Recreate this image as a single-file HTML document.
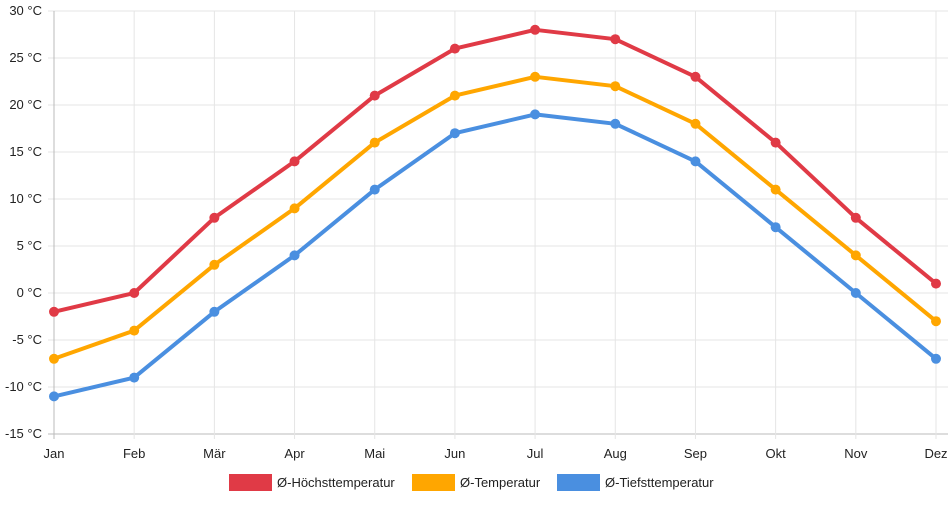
<!DOCTYPE html>
<html><head><meta charset="utf-8"><style>
body{margin:0;background:#fff;font-family:"Liberation Sans",sans-serif;}
svg text{font-family:"Liberation Sans",sans-serif;font-size:13px;fill:#222;}
</style></head><body>
<svg id="c" width="952" height="500"></svg>
<script>
const months=["Jan","Feb","Mär","Apr","Mai","Jun","Jul","Aug","Sep","Okt","Nov","Dez"];
const highTemps=[-2,0,8,14,21,26,28,27,23,16,8,1];
const meanTemps=[-7,-4,3,9,16,21,23,22,18,11,4,-3];
const lowTemps=[-11,-9,-2,4,11,17,19,18,14,7,0,-7];
const yTicks=[30,25,20,15,10,5,0,-5,-10,-15];
const seriesNames=["Ø-Höchsttemperatur","Ø-Temperatur","Ø-Tiefsttemperatur"];
const NS="http://www.w3.org/2000/svg";
const svg=document.getElementById('c');
const x0=54,x1=936,yTop=11,yBot=434,vMax=30,vMin=-15;
const xs=i=>x0+(x1-x0)*i/(months.length-1);
const ys=v=>yTop+(vMax-v)*(yBot-yTop)/(vMax-vMin);
function el(t,a){const e=document.createElementNS(NS,t);for(const k in a)e.setAttribute(k,a[k]);svg.appendChild(e);return e;}
yTicks.forEach(v=>{
 const l=el('line',{x1:48,x2:948,y1:ys(v),y2:ys(v),stroke:v===vMin?'#bbb':'#e5e5e5','stroke-width':1});
 
 
 const t=el('text',{x:42,y:ys(v)+4,'text-anchor':'end'});t.textContent=v+' °C';
 
 
});
months.forEach((m,i)=>{
 const l=el('line',{x1:xs(i),x2:xs(i),y1:yTop,y2:yBot+5,stroke:i===0?'#bbb':'#e5e5e5','stroke-width':1});
 
 
 const t=el('text',{x:xs(i),y:458,'text-anchor':'middle'});t.textContent=m;
 
 
});
const colors=["#e03a46","#ffa600","#4a8fe0"];
[highTemps,meanTemps,lowTemps].forEach((d,s)=>{
 const p=el('polyline',{points:d.map((v,i)=>xs(i)+','+ys(v)).join(' '),fill:'none',stroke:colors[s],'stroke-width':4,'stroke-linejoin':'round'});
 
 
 d.forEach((v,i)=>{
  const c=el('circle',{cx:xs(i),cy:ys(v),r:5,fill:colors[s]});
  
  
 });
});
const legX=[229,412,557];
seriesNames.forEach((n,s)=>{
 const r=el('rect',{x:legX[s],y:474,width:43,height:17,fill:colors[s]});
 
 
 const t=el('text',{x:legX[s]+48,y:487});t.textContent=n;
 
 
});
</script>
</body></html>
